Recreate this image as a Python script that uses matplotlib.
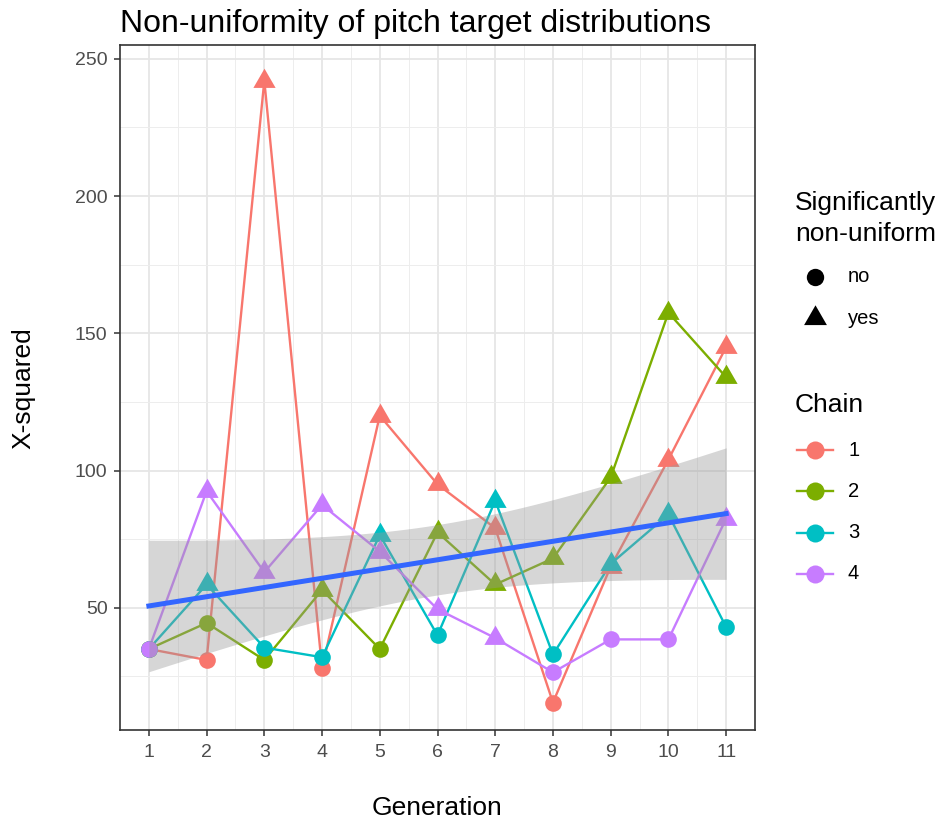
import numpy as np
import matplotlib
matplotlib.use("Agg")
import matplotlib.pyplot as plt

plt.rcParams['font.family'] = ['Liberation Sans', 'DejaVu Sans']

# ---- data ----
generations = [1, 2, 3, 4, 5, 6, 7, 8, 9, 10, 11]
chain1 = [35, 31, 242, 28, 120, 95, 79, 15.5, 65, 104, 145]
chain2 = [35, 44.5, 31, 56.5, 35, 77.5, 58.5, 68, 97.5, 157.5, 134]
chain3 = [35, 58.5, 35.5, 32, 76.5, 40, 89, 33, 66, 84, 43]
chain4 = [35, 92.5, 63, 87.5, 70.5, 49.5, 39, 26.5, 38.5, 38.5, 82.5]
# significantly non-uniform (True = triangle / "yes")
sig1 = [False, False, True, False, True, True, True, False, True, True, True]
sig2 = [False, False, False, True, False, True, True, True, True, True, True]
sig3 = [False, True, False, False, True, False, True, False, True, True, False]
sig4 = [False, True, True, True, True, True, True, False, False, False, True]
chain_labels = ["1", "2", "3", "4"]
chain_colors = ["#F8766D", "#7CAE00", "#00BFC4", "#C77CFF"]
shape_labels = ["no", "yes"]
y_ticks = [50, 100, 150, 200, 250]
T_CRIT = 2.018  # t(0.975, df=42)

W, H = 939, 824
fig = plt.figure(figsize=(W / 100, H / 100), dpi=100)
L, R, T, B = 120, 755, 45, 730
ax = fig.add_axes([L / W, 1 - B / H, (R - L) / W, (B - T) / H])

tri = [(0, 0.667), (-0.577, -0.333), (0.577, -0.333)]
chains = [chain1, chain2, chain3, chain4]
sigs = [sig1, sig2, sig3, sig4]
x = np.array(generations, dtype=float)

for vals, col in zip(chains, chain_colors):
    ax.plot(x, vals, color=col, lw=1.7, zorder=3)
for vals, sg, col in zip(chains, sigs, chain_colors):
    v = np.array(vals); s = np.array(sg)
    ax.plot(x[~s], v[~s], ls='none', marker='o', ms=12, color=col, mec='none', zorder=4)
    ax.plot(x[s], v[s], ls='none', marker=tri, ms=18.5, color=col, mec='none', zorder=4)

# linear smooth with 95% CI
xa = np.tile(x, 4)
ya = np.concatenate([np.array(c, dtype=float) for c in chains])
n = len(xa)
b1, b0 = np.polyfit(xa, ya, 1)
resid = ya - (b0 + b1 * xa)
s2 = np.sum(resid ** 2) / (n - 2)
xg = np.linspace(1, 11, 100)
se = np.sqrt(s2 * (1 / n + (xg - xa.mean()) ** 2 / np.sum((xa - xa.mean()) ** 2)))
yg = b0 + b1 * xg
ax.fill_between(xg, yg - T_CRIT * se, yg + T_CRIT * se, color='#999999', alpha=0.4, lw=0, zorder=5)
ax.plot(xg, yg, color='#3366FF', lw=3.6, zorder=6)

ax.set_xlim(0.5, 11.5)
ax.set_ylim(5.5, 255)
ax.set_xticks(generations)
ax.set_xticklabels([str(g) for g in generations])
ax.set_yticks(y_ticks)
ax.set_yticks([25, 75, 125, 175, 225], minor=True)
ax.set_xticks(np.arange(1.5, 11, 1.0), minor=True)
ax.grid(which='major', color='#E6E6E6', lw=1.3, zorder=0)
ax.grid(which='minor', color='#EDEDED', lw=0.7, zorder=0)
ax.set_axisbelow(True)
ax.tick_params(which='minor', length=0)
ax.tick_params(axis='x', which='major', pad=6)
ax.tick_params(axis='y', which='major', pad=5)
ax.tick_params(which='major', length=4, width=1.1, color='#333333', labelcolor='#4D4D4D', labelsize=14)
for sp in ax.spines.values():
    sp.set_color('#333333'); sp.set_linewidth(1.2)

fig.text(437 / W, 1 - 808 / H, "Generation", fontsize=19, ha='center', va='center')
fig.text(23 / W, 1 - 388 / H, "X-squared", fontsize=19, ha='center', va='center', rotation=90)
fig.text(L / W, 1 - 32 / H, "Non-uniformity of pitch target distributions", fontsize=23, ha='left', va='baseline')

# ---- legends ----
lg = fig.add_axes([0, 0, 1, 1], facecolor='none')
lg.set_xlim(0, W); lg.set_ylim(H, 0); lg.axis('off')
lg.text(795, 203, "Significantly", fontsize=19, va='center', ha='left')
lg.text(795, 234, "non-uniform", fontsize=19, va='center', ha='left')
for i, (lab, mk, ms) in enumerate(zip(shape_labels, ['o', tri], [12.5, 19])):
    yy = 277 + i * 41
    lg.plot([815], [yy], marker=mk, ms=ms, color='black', mec='none')
    lg.text(848, yy, lab, fontsize=14.5, va='center', ha='left')
lg.text(795, 405, "Chain", fontsize=19, va='center', ha='left')
for i, (lab, col) in enumerate(zip(chain_labels, chain_colors)):
    yy = 450 + i * 41.3
    lg.plot([797, 833], [yy, yy], color=col, lw=1.7)
    lg.plot([815], [yy], marker='o', ms=13, color=col, mec='none')
    lg.text(848, yy, lab, fontsize=14.5, va='center', ha='left')

fig.savefig("out.png", dpi=100)
